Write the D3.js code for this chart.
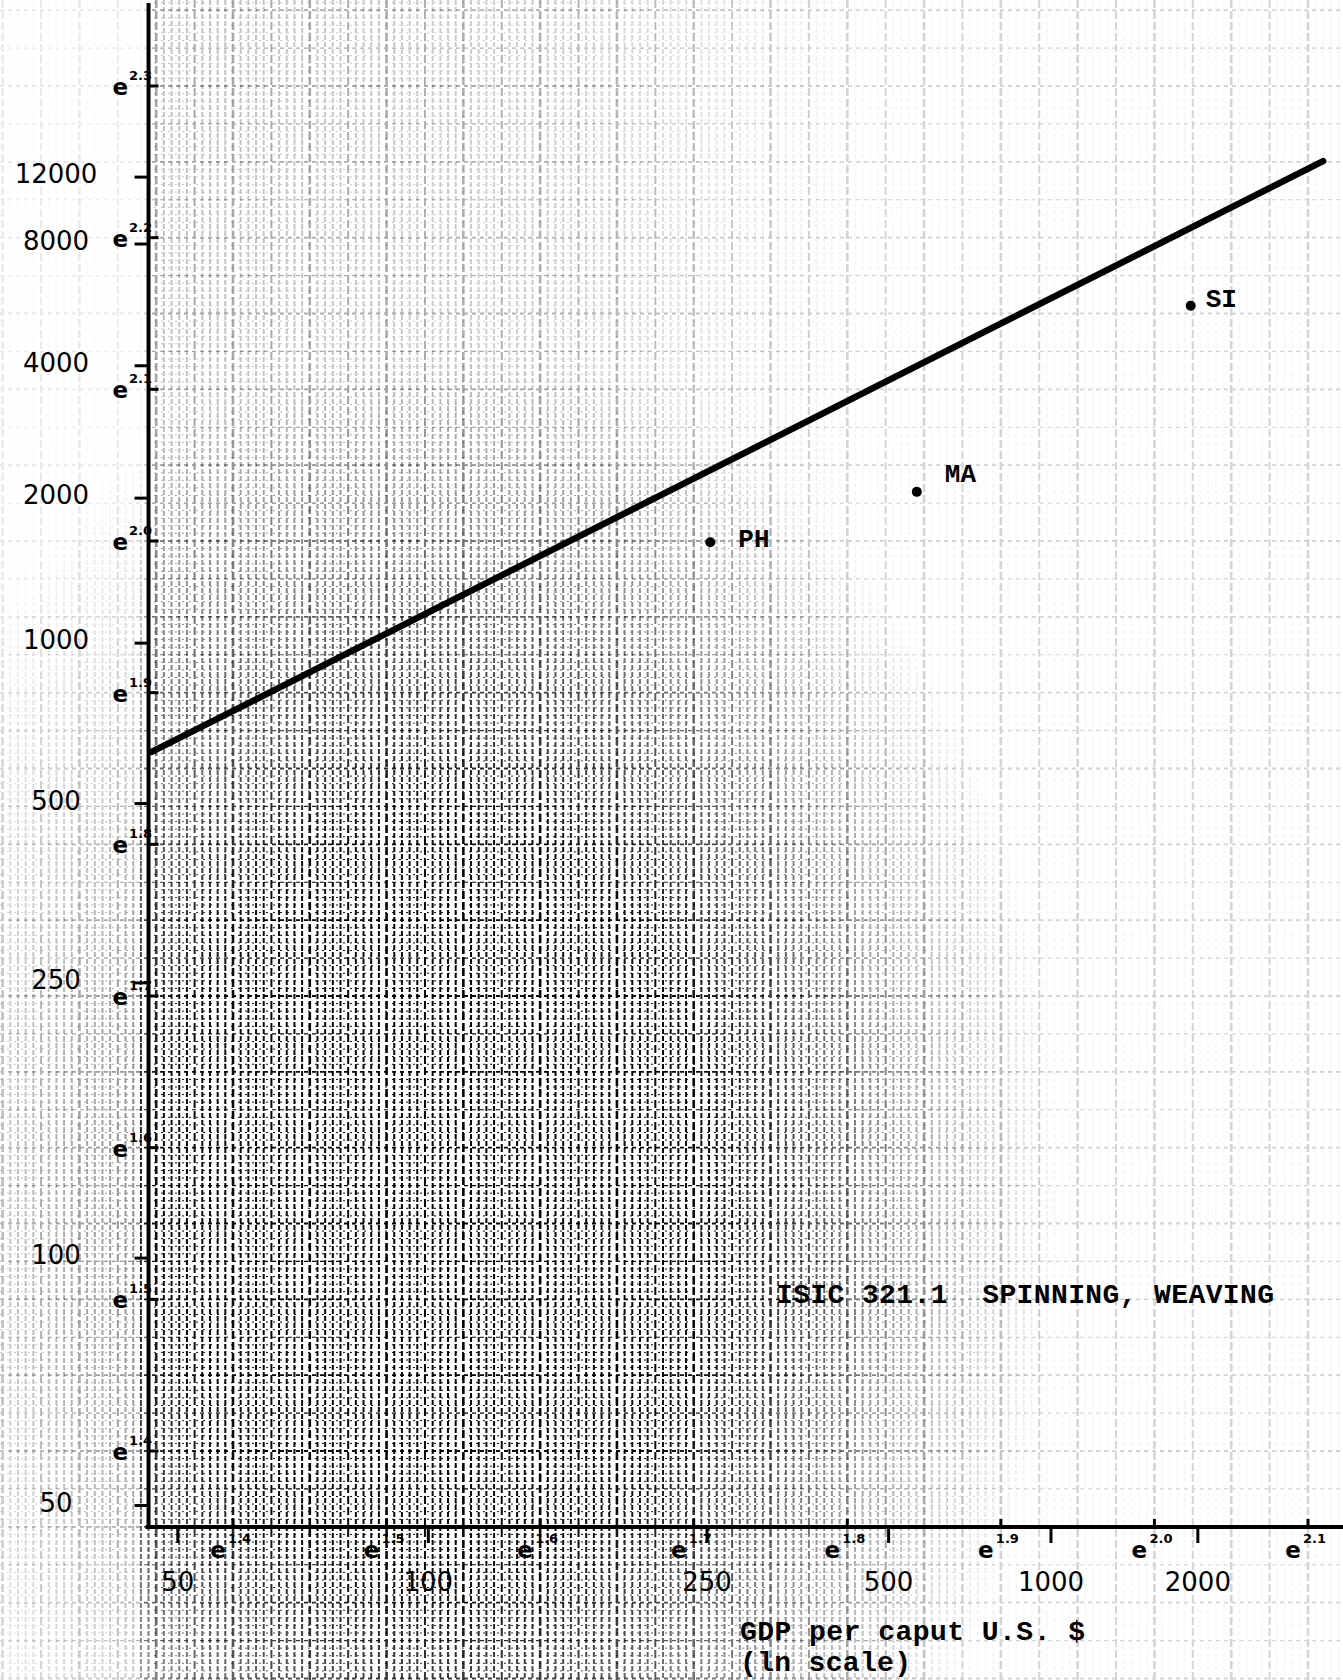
<!DOCTYPE html>
<html>
<head>
<meta charset="utf-8">
<script src="https://cdn.jsdelivr.net/npm/d3@7"></script>
<style>
  html, body { margin: 0; padding: 0; background: #fff; }
  svg { display: block; }
  .num { font-family: "DejaVu Sans", sans-serif; font-size: 26px; fill: #000; }
  .e { font-family: "DejaVu Sans", sans-serif; font-size: 23px; font-weight: bold; fill: #000; }
  .sup { font-family: "DejaVu Sans", sans-serif; font-size: 13px; font-weight: bold; fill: #000; }
  .type { font-family: "Liberation Mono", monospace; font-weight: bold; fill: #000; }
</style>
</head>
<body>
<svg id="chart" width="1343" height="1680"></svg>
<script>
var W = 1343, H = 1680;

// countries plotted, GDP per caput (US $) and the y quantity
var countries = ['PH', 'MA', 'SI'];
var gdpPerCaput = [253, 561, 1931];
var yValues = [1609, 2064, 5590];

// fitted line, two ends
var fitGdp = [46.8, 3816];
var fitValues = [620, 13260];

// exponents z written as e^z along the axes (z = ln ln value)
var xExponents = [1.4, 1.5, 1.6, 1.7, 1.8, 1.9, 2.0, 2.1];
var yExponents = [1.4, 1.5, 1.6, 1.7, 1.8, 1.9, 2.0, 2.1, 2.2, 2.3];

var xTickLabels = [50, 100, 250, 500, 1000, 2000];
var yTickLabels = [50, 100, 250, 500, 1000, 2000, 4000, 8000, 12000];

var title = 'ISIC 321.1  SPINNING, WEAVING';
var xTitle = ['GDP per caput U.S. $', '(ln scale)'];

// the paper is linear in ln(ln v): a log scale fed with ln(v)
var x = d3.scaleLog().domain([Math.exp(1.4), Math.exp(2.1)]).range([233, 1308]);
var y = d3.scaleLog().domain([Math.exp(1.4), Math.exp(2.3)]).range([1451, 86]);

function px(v) { return x(Math.log(v)); }
function py(v) { return y(Math.log(v)); }
function pxE(z) { return x(Math.exp(z)); }
function pyE(z) { return y(Math.exp(z)); }

var fmtExp = d3.format('.1f');
var svg = d3.select('#chart');

drawPaper();
drawAxes();
drawData();
drawTexts();

function drawPaper() {
  var defs = svg.append('defs');
  var grad = defs.append('radialGradient').attr('id', 'denseGrad');
  grad.selectAll('stop')
    .data([[0, 1], [0.45, 0.95], [0.75, 0.35], [1, 0]])
    .join('stop')
    .attr('offset', function(d) { return d[0]; })
    .attr('stop-color', '#fff')
    .attr('stop-opacity', function(d) { return d[1]; });

  var upper = defs.append('linearGradient').attr('id', 'upperGrad')
    .attr('x1', 0).attr('x2', 1).attr('y1', 0).attr('y2', 0);
  upper.selectAll('stop')
    .data([[0, 0.22], [0.6, 0.16], [1, 0]])
    .join('stop')
    .attr('offset', function(d) { return d[0]; })
    .attr('stop-color', '#fff')
    .attr('stop-opacity', function(d) { return d[1]; });

  addMask(defs, 'minorMask', '#080808');
  addMask(defs, 'majorMask', '#2a2a2a');

  var steps = d3.range(1240, 2370, 5);
  var vSteps = steps.filter(function(k) { var p = pxE(k / 1000); return p > -3 && p < W + 3; });
  var hSteps = steps.filter(function(k) { var p = pyE(k / 1000); return p > -3 && p < H + 3; });

  var minor = svg.append('g').attr('mask', 'url(#minorMask)').attr('stroke', '#000');
  var major = svg.append('g').attr('mask', 'url(#majorMask)').attr('stroke', '#000');

  minor.selectAll('.vminor')
    .data(vSteps.filter(function(k) { return k % 25 !== 0; }))
    .join('line')
    .attr('class', 'vminor')
    .attr('x1', function(k) { return pxE(k / 1000); })
    .attr('x2', function(k) { return pxE(k / 1000); })
    .attr('y1', 0).attr('y2', H)
    .attr('stroke-width', 2)
    .attr('stroke-dasharray', '5 2');

  minor.selectAll('.hminor')
    .data(hSteps.filter(function(k) { return k % 25 !== 0; }))
    .join('line')
    .attr('class', 'hminor')
    .attr('y1', function(k) { return pyE(k / 1000); })
    .attr('y2', function(k) { return pyE(k / 1000); })
    .attr('x1', 0).attr('x2', W)
    .attr('stroke-width', 1)
    .attr('stroke-dasharray', '2 5');

  major.selectAll('.vmajor')
    .data(vSteps.filter(function(k) { return k % 25 === 0; }))
    .join('line')
    .attr('class', 'vmajor')
    .attr('x1', function(k) { return pxE(k / 1000); })
    .attr('x2', function(k) { return pxE(k / 1000); })
    .attr('y1', 0).attr('y2', H)
    .attr('stroke-width', function(k) { return k % 50 === 0 ? 2.6 : 2; })
    .attr('stroke-dasharray', '8 3');

  major.selectAll('.hmajor')
    .data(hSteps.filter(function(k) { return k % 25 === 0; }))
    .join('line')
    .attr('class', 'hmajor')
    .attr('y1', function(k) { return pyE(k / 1000); })
    .attr('y2', function(k) { return pyE(k / 1000); })
    .attr('x1', 0).attr('x2', W)
    .attr('stroke-width', function(k) { return k % 50 === 0 ? 1.8 : 1.2; })
    .attr('stroke-dasharray', '4 4');
}

function addMask(defs, id, base) {
  var m = defs.append('mask').attr('id', id)
    .attr('maskUnits', 'userSpaceOnUse')
    .attr('x', 0).attr('y', 0).attr('width', W).attr('height', H)
    .style('color-interpolation', 'sRGB');
  m.append('rect').attr('width', W).attr('height', H).attr('fill', base);
  m.append('rect').attr('x', 150).attr('width', 700).attr('height', 720)
    .attr('fill', 'url(#upperGrad)');
  m.append('ellipse')
    .attr('cx', 440).attr('cy', 1200).attr('rx', 620).attr('ry', 860)
    .attr('fill', 'url(#denseGrad)');
  m.append('rect').attr('width', 140).attr('height', H)
    .attr('fill', '#000').attr('fill-opacity', 0.5);
}

function drawAxes() {
  var x0 = px(Math.exp(Math.exp(1.345)));
  var y0 = 1527;

  svg.append('line')
    .attr('x1', x0).attr('x2', x0).attr('y1', 3).attr('y2', y0 + 2)
    .attr('stroke', '#000').attr('stroke-width', 4);
  svg.append('line')
    .attr('x1', x0 - 3).attr('x2', W).attr('y1', y0).attr('y2', y0)
    .attr('stroke', '#000').attr('stroke-width', 4);

  // y axis: e^z ticks to the right, value ticks to the left
  var yE = svg.append('g').selectAll('g').data(yExponents).join('g');
  yE.append('line')
    .attr('x1', x0).attr('x2', x0 + 10)
    .attr('y1', pyE).attr('y2', pyE)
    .attr('stroke', '#000').attr('stroke-width', 3);
  yE.append('text').attr('class', 'e')
    .attr('x', 128).attr('y', function(z) { return pyE(z) + 9; })
    .attr('text-anchor', 'end').text('e');
  yE.append('text').attr('class', 'sup')
    .attr('x', 129).attr('y', function(z) { return pyE(z) - 6; })
    .text(fmtExp);

  var yV = svg.append('g').selectAll('g').data(yTickLabels).join('g');
  yV.append('line')
    .attr('x1', x0 - 14).attr('x2', x0)
    .attr('y1', py).attr('y2', py)
    .attr('stroke', '#000').attr('stroke-width', 3);
  yV.append('text').attr('class', 'num')
    .attr('x', 56).attr('y', function(v) { return py(v) + 6; })
    .attr('text-anchor', 'middle')
    .text(String);

  // x axis: e^z ticks above, value ticks below
  var xE = svg.append('g').selectAll('g').data(xExponents).join('g');
  xE.append('line')
    .attr('x1', pxE).attr('x2', pxE)
    .attr('y1', y0).attr('y2', y0 - 8)
    .attr('stroke', '#000').attr('stroke-width', 3);
  xE.append('text').attr('class', 'e')
    .attr('x', function(z) { return pxE(z) - 15; }).attr('y', y0 + 31)
    .attr('text-anchor', 'middle').text('e');
  xE.append('text').attr('class', 'sup')
    .attr('x', function(z) { return pxE(z) - 5; }).attr('y', y0 + 16)
    .text(fmtExp);

  var xV = svg.append('g').selectAll('g').data(xTickLabels).join('g');
  xV.append('line')
    .attr('x1', px).attr('x2', px)
    .attr('y1', y0).attr('y2', y0 + 16)
    .attr('stroke', '#000').attr('stroke-width', 3);
  xV.append('text').attr('class', 'num')
    .attr('x', px).attr('y', y0 + 64)
    .attr('text-anchor', 'middle')
    .text(String);
}

function drawData() {
  var fit = d3.zip(fitGdp, fitValues);
  svg.append('path')
    .datum(fit)
    .attr('d', d3.line().x(function(d) { return px(d[0]); }).y(function(d) { return py(d[1]); }))
    .attr('fill', 'none')
    .attr('stroke', '#000')
    .attr('stroke-width', 6.5)
    .attr('stroke-linecap', 'round');

  var pts = d3.zip(countries, gdpPerCaput, yValues);
  var labelShift = {PH: [28, 5], MA: [28, -10], SI: [15, 1]};

  var g = svg.append('g').selectAll('g').data(pts).join('g');
  g.append('circle')
    .attr('cx', function(d) { return px(d[1]); })
    .attr('cy', function(d) { return py(d[2]); })
    .attr('r', 5)
    .attr('fill', '#000');
  g.append('text').attr('class', 'type')
    .attr('x', function(d) { return px(d[1]) + labelShift[d[0]][0]; })
    .attr('y', function(d) { return py(d[2]) + labelShift[d[0]][1]; })
    .style('font-size', '26px')
    .text(function(d) { return d[0]; });
}

function drawTexts() {
  svg.append('text').attr('class', 'type')
    .attr('x', 776).attr('y', 1303)
    .attr('textLength', 498).attr('lengthAdjust', 'spacing')
    .style('font-size', '28px')
    .style('white-space', 'pre')
    .text(title);

  svg.append('g').selectAll('text').data(xTitle).join('text')
    .attr('class', 'type')
    .attr('x', 740)
    .attr('y', function(d, i) { return 1640 + i * 31; })
    .attr('textLength', function(d) { return d.length * 17.4 - 3; })
    .attr('lengthAdjust', 'spacing')
    .style('font-size', '28px')
    .style('white-space', 'pre')
    .text(String);
}
</script>
</body>
</html>
